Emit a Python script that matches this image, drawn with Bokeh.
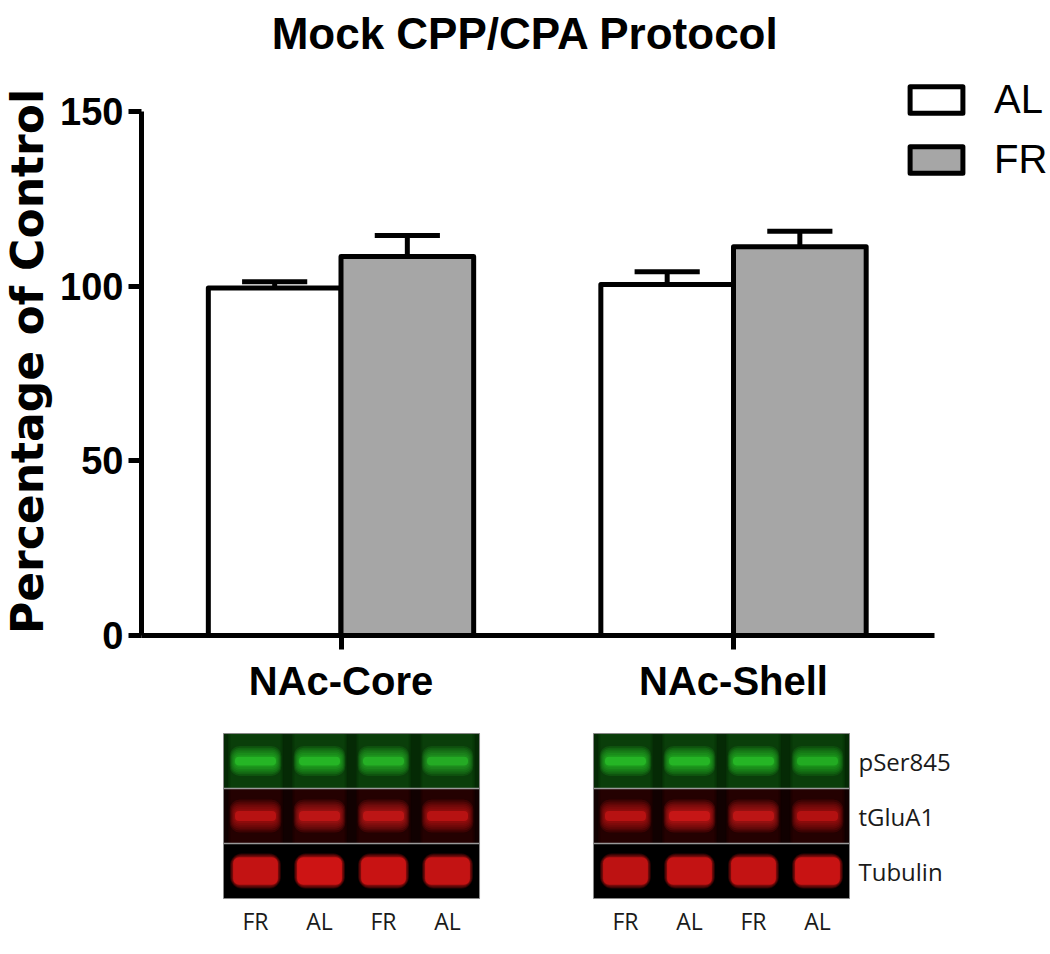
import math
from bokeh.plotting import figure
from bokeh.models import Range1d, FixedTicker, Label, Legend, LegendItem
from bokeh.embed import file_html
from bokeh.resources import INLINE
from bokeh.core.properties import value

# ---------------- data ----------------
regions = ["NAc-Core", "NAc-Shell"]
groups = ["AL", "FR"]
al_mean = [99.5, 100.5]
al_sem = [1.8, 3.6]
fr_mean = [108.5, 111.3]
fr_sem = [6.0, 4.4]
y_ticks = [0, 50, 100, 150]

blot_rows = ["pSer845", "tGluA1", "Tubulin"]
core_lanes = ["FR", "AL", "FR", "AL"]
shell_lanes = ["FR", "AL", "FR", "AL"]
# relative band intensities (row x lane)
core_intensity = [[0.95, 0.95, 0.90, 0.85],
                  [0.85, 0.90, 0.90, 0.85],
                  [0.90, 1.00, 0.95, 0.90]]
shell_intensity = [[0.95, 0.95, 0.95, 0.80],
                   [0.85, 1.00, 0.90, 0.80],
                   [0.85, 0.90, 0.90, 0.95]]

# ---------------- style / layout ----------------
W, H = 1050, 954
BAR_W = 0.338
CAP_W = 0.166
AL_FILL = "white"
FR_FILL = "#a6a6a6"
BOLD = "Liberation Sans"
Y_AXIS_AT = -0.5083
X_AXIS_END = 1.5121

p = figure(width=W, height=H, x_range=Range1d(-0.8675, 1.8076), y_range=Range1d(-91.32, 181.78),
           output_backend="svg", toolbar_location=None, min_border=0)
p.extra_x_ranges = {"lane": Range1d(-3.984, 12.42)}
p.extra_y_ranges = {"row": Range1d(3.518, -13.83)}
p.xgrid.visible = False
p.ygrid.visible = False
p.outline_line_color = None
p.background_fill_color = "white"
p.border_fill_color = "white"

for ax in (p.xaxis, p.yaxis):
    ax.axis_line_width = 5
    ax.axis_line_color = "black"
    ax.major_tick_line_width = 5
    ax.major_tick_line_color = "black"
    ax.major_tick_in = 0
    ax.minor_tick_in = 0
    ax.minor_tick_out = 0
    ax.major_label_text_font = BOLD
    ax.major_label_text_font_style = "bold"
    ax.major_label_text_color = "black"

p.yaxis.fixed_location = Y_AXIS_AT
p.yaxis.bounds = (y_ticks[0], y_ticks[-1])
p.yaxis.ticker = FixedTicker(ticks=y_ticks)
p.yaxis.major_tick_out = 13
p.yaxis.major_label_text_font_size = "38px"
p.yaxis.major_label_standoff = 5

p.xaxis.fixed_location = 0
p.xaxis.bounds = (Y_AXIS_AT, X_AXIS_END)
p.xaxis.ticker = FixedTicker(ticks=list(range(len(regions))))
p.xaxis.major_label_overrides = {i: r for i, r in enumerate(regions)}
p.xaxis.major_tick_out = 14
p.xaxis.major_label_text_font_size = "40px"
p.xaxis.major_label_standoff = 10

idx = list(range(len(regions)))
x_al = [i - BAR_W / 2 for i in idx]
x_fr = [i + BAR_W / 2 for i in idx]

series = [(x_al, al_mean, al_sem, AL_FILL), (x_fr, fr_mean, fr_sem, FR_FILL)]
bar_renderers = []
for xs, m, s, fill in series:
    tops = [a + b for a, b in zip(m, s)]
    p.segment(x0=xs, y0=m, x1=xs, y1=tops, line_width=5, line_color="black")
    p.segment(x0=[x - CAP_W / 2 for x in xs], y0=tops, x1=[x + CAP_W / 2 for x in xs], y1=tops,
              line_width=5, line_color="black")
for xs, m, s, fill in series:
    r = p.vbar(x=xs, top=m, bottom=0, width=BAR_W, fill_color=fill, line_color="black",
               line_width=5, line_join="round")
    bar_renderers.append(r)

legend = Legend(items=[LegendItem(label=g, renderers=[r]) for g, r in zip(groups, bar_renderers)],
                location=(903, 772), orientation="vertical",
                border_line_color=None, background_fill_alpha=0,
                glyph_width=66, glyph_height=33, label_standoff=25, spacing=15,
                padding=0, margin=0,
                label_text_font="Liberation Sans", label_text_font_size="40px",
                label_text_color="black")
p.add_layout(legend)

p.add_layout(Label(x=525, y=H - 33, x_units="screen", y_units="screen", text="Mock CPP/CPA Protocol",
                   text_font=BOLD, text_font_style="bold", text_font_size="44px",
                   text_align="center", text_baseline="middle", text_color="black"))
p.add_layout(Label(x=27, y=H - 361, x_units="screen", y_units="screen", text="Percentage of Control",
                   angle=math.pi / 2, text_font="DejaVu Sans", text_font_style="bold",
                   text_font_size="44px",
                   text_align="center", text_baseline="middle", text_color="black"))

# ---------------- western blot panel ----------------
offsets = [0.0, 5.78]
lane_sets = [core_lanes, shell_lanes]
intens_sets = [core_intensity, shell_intensity]
gap_colors = ["#052a05", "#110101", "#000000"]
lane_colors = ["#0c470c", "#2a0404", "#000000"]
band_colors = ["#30d830", "#f01c1c", "#ea1818"]
band_w = [0.64, 0.64, 0.70]
band_h = [0.16, 0.18, 0.50]
glow_dw = [0.014, 0.014, 0.008]
glow_dh = [0.032, 0.035, 0.012]
band_r = [4, 4, 6]
core_alpha = [0.5, 0.5, 0.7]
n_glow = 6
kw = dict(x_range_name="lane", y_range_name="row")

for off, lanes, inten in zip(offsets, lane_sets, intens_sets):
    n = len(lanes)
    lane_x = [off + i for i in range(n)]
    rows_y = list(range(len(blot_rows)))
    p.rect(x=[off + (n - 1) / 2] * len(rows_y), y=rows_y, width=n, height=1,
           fill_color=gap_colors, line_color=None, **kw)
    for ri in rows_y[:2]:
        for k in range(4, 0, -1):
            p.rect(x=lane_x, y=[ri] * n, width=0.74 + 0.03 * k, height=1,
                   fill_color=lane_colors[ri], fill_alpha=0.3, line_color=None, **kw)
    for ri in rows_y:
        for k in range(n_glow, -1, -1):
            hw = band_w[ri] / 2 + glow_dw[ri] * k
            hh = band_h[ri] / 2 + glow_dh[ri] * k
            alpha = 0.14 if k > 0 else core_alpha[ri]
            p.quad(left=[x - hw for x in lane_x], right=[x + hw for x in lane_x],
                   top=[ri - hh] * n, bottom=[ri + hh] * n,
                   fill_color=band_colors[ri], fill_alpha=[alpha * v for v in inten[ri]],
                   line_color=None, border_radius=band_r[ri] + k, **kw)
    p.segment(x0=[off - 0.5] * 2, x1=[off + n - 0.5] * 2, y0=[0.5, 1.5], y1=[0.5, 1.5],
              line_color="#9a9a9a", line_width=1.5, **kw)
    p.rect(x=[off + (n - 1) / 2], y=[1], width=n, height=3, fill_color=None,
           line_color="#8a8a8a", line_width=1, **kw)
    p.text(x=lane_x, y=[2.9] * n, text=lanes, text_font=value("Open Sans"), text_font_size="23px",
           text_align="center", text_baseline="middle", text_color="#1a1a1a", **kw)

p.text(x=[offsets[-1] + 3.64] * len(blot_rows), y=list(range(len(blot_rows))), text=blot_rows,
       text_font=value("Open Sans"), text_font_size="24px", text_align="left",
       text_baseline="middle", text_color="#1a1a1a", **kw)

open("out.html", "w").write(file_html(p, INLINE))
